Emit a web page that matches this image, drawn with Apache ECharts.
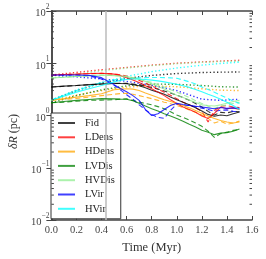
<!DOCTYPE html>
<html><head><meta charset="utf-8">
<script src="https://cdn.jsdelivr.net/npm/echarts@6/dist/echarts.min.js"></script>
<style>html,body{margin:0;padding:0;background:#fff}#c{width:266px;height:259px}</style>
</head><body><div id="c"></div>
<script>
var names = ['Fid','LDens','HDens','LVDis','HVDis','LVir','HVir'];
var colors = ['#000000','#ff0000','#ffa500','#008000','#90ee90','#0000ff','#00ffff'];
var markTime = 0.43;
var timeFine = [0,0.1,0.2,0.3,0.4,0.5,0.55,0.6,0.65,0.7,0.75,0.8,0.85,0.9,0.95,1.0,1.05,1.1,1.15,1.2,1.25,1.3,1.35,1.4,1.45,1.5];
var timeCoarse = [0,0.2,0.4,0.6,0.8,1.0,1.2,1.35,1.5];

var fidSolid   = [3.50,3.65,3.76,3.90,4.02,4.12,4.10,4.04,3.90,3.70,3.40,3.05,2.80,2.55,2.25,2.00,1.80,1.60,1.40,1.22,1.05,0.97,1.02,0.99,1.08,1.17];
var fidDashed  = [3.50,3.62,3.74,3.88,4.00,4.10,4.15,4.12,4.00,3.85,3.65,3.45,3.20,2.95,2.70,2.45,2.20,1.95,1.70,1.45,1.20,1.02,1.15,1.12,1.20,1.18];
var ldensSolid = [5.96,6.10,6.20,6.35,6.45,6.20,5.80,5.30,4.80,4.30,3.70,3.25,2.80,2.40,2.00,1.70,1.45,1.30,1.15,0.98,0.88,1.10,1.45,1.35,1.40,1.30];
var ldensDashed= [5.96,6.05,6.15,6.30,6.40,6.25,6.00,5.70,5.20,4.70,4.20,3.70,3.20,2.80,2.45,2.10,1.80,1.60,1.40,1.20,0.75,1.25,1.50,1.55,1.45,1.42];
var hdensSolid = [1.97,2.10,2.25,2.40,2.60,3.10,3.20,3.25,3.20,3.00,2.70,2.45,2.20,2.00,1.85,1.70,1.55,1.40,1.25,1.10,0.98,0.88,0.80,0.75,0.72,0.75];
var hdensDashed= [1.97,2.03,2.12,2.25,2.40,2.55,2.62,2.65,2.55,2.40,2.25,2.10,1.95,1.80,1.68,1.55,1.42,1.28,1.15,1.02,0.88,0.72,0.78,0.68,0.72,0.78];
var lvdisSolid = [1.75,1.85,1.95,2.03,2.10,2.08,2.06,2.05,1.92,1.72,1.52,1.35,1.22,1.08,0.98,0.88,0.78,0.68,0.60,0.52,0.48,0.43,0.46,0.47,0.50,0.55];
var lvdisDashed= [1.75,1.80,1.88,1.95,1.97,2.00,2.05,2.08,1.95,1.80,1.70,1.60,1.48,1.35,1.18,1.02,0.92,0.82,0.72,0.62,0.50,0.38,0.45,0.48,0.52,0.54];
var hvdisSolid = [5.23,5.40,5.60,5.80,5.95,5.80,5.70,5.55,5.25,4.95,4.50,4.05,3.60,3.20,2.80,2.45,2.20,1.97,1.78,1.60,1.55,1.52,1.60,1.72,1.85,1.95];
var hvdisDashed= [5.23,5.38,5.58,5.75,5.90,5.80,5.70,5.60,5.30,4.95,4.60,4.30,3.90,3.50,3.10,2.80,2.50,2.20,1.92,1.70,1.50,1.38,1.50,1.60,1.70,1.78];
var lvirSolid  = [5.96,5.96,5.96,5.85,5.30,3.90,3.30,2.85,2.40,1.95,1.30,1.00,1.08,1.30,1.55,1.72,1.62,1.55,1.50,1.45,1.40,1.35,1.42,1.37,1.40,1.37];
var lvirDashed = [5.96,5.96,5.96,5.75,5.00,3.80,3.10,2.50,2.05,1.60,1.28,1.05,0.92,0.88,1.25,1.65,1.60,1.55,1.48,1.38,1.30,1.20,1.26,1.28,1.20,1.18];
var hvirSolid  = [1.97,2.35,2.80,3.25,3.75,4.40,4.70,4.90,5.00,5.00,4.90,4.75,4.60,4.40,4.20,3.95,3.70,3.45,3.15,2.85,2.55,2.30,2.05,1.80,1.55,1.30];
var hvirDashed = [1.97,2.45,3.00,3.60,4.30,4.80,4.95,5.05,5.15,5.25,5.30,5.35,5.35,5.30,5.25,5.15,4.80,4.40,4.00,3.50,3.15,2.80,2.45,2.15,1.90,1.70];

var fidDotted   = [1.97,3.00,4.20,5.15,5.85,6.35,6.65,6.75,6.80];
var ldensDotted = [5.96,6.70,7.50,8.30,9.20,10.0,10.6,11.0,11.4];
var hdensDotted = [1.97,2.45,3.00,3.50,3.70,3.55,3.25,3.05,3.00];
var lvdisDotted = [1.75,2.40,3.10,3.70,4.00,3.95,3.75,3.55,3.50];
var hvdisDotted = [5.23,6.20,7.20,8.10,9.00,9.80,10.4,10.8,11.0];
var lvirDotted  = [5.96,5.50,5.00,4.50,3.80,3.00,2.05,1.95,2.05];
var hvirDotted  = [1.97,3.10,4.30,5.60,6.90,8.10,9.20,9.90,10.5];

var solids = [fidSolid,ldensSolid,hdensSolid,lvdisSolid,hvdisSolid,lvirSolid,hvirSolid];
var dashes = [fidDashed,ldensDashed,hdensDashed,lvdisDashed,hvdisDashed,lvirDashed,hvirDashed];
var dots = [fidDotted,ldensDotted,hdensDotted,lvdisDotted,hvdisDotted,lvirDotted,hvirDotted];

var minorVals = [];
[0.01,0.1,1,10].forEach(function(d){ for (var k=2;k<=9;k++) minorVals.push(+(d*k).toPrecision(3)); });

function pairs(t, v){ return t.map(function(x,i){ return [x, v[i]]; }); }

var FONT = 'Liberation Serif';
var AX = '#444';
var series = [];
series.push({
  type:'line', data:[], silent:true, z:1,
  markLine:{ silent:true, symbol:'none', label:{show:false},
    lineStyle:{color:'#bbbbbb', width:1.5, type:'solid'},
    data:[{xAxis: markTime}] }
});
for (var i=0;i<names.length;i++){
  var base = {type:'line', showSymbol:false, symbol:'none', silent:true, animation:false,
    color: colors[i], itemStyle:{color:colors[i], opacity:0.75}};
  series.push(Object.assign({}, base, {name:names[i], data:pairs(timeFine, solids[i]), z:5,
    lineStyle:{color:colors[i], width:1.1, opacity:0.8}}));
  series.push(Object.assign({}, base, {name:names[i]+'_d', data:pairs(timeFine, dashes[i]), z:4,
    lineStyle:{color:colors[i], width:1.1, opacity:0.8, type:[5,3]}}));
  series.push(Object.assign({}, base, {name:names[i]+'_o', data:pairs(timeCoarse, dots[i]), z:3,
    lineStyle:{color:colors[i], width:1.4, opacity:0.8, type:[1.3,2.3]}}));
}
series.push({
  type:'custom', silent:true, clip:false, z:10, animation:false,
  data: minorVals.map(function(v){ return [0, v]; }),
  encode:{x:0, y:1},
  renderItem:function(params, api){
    var v = api.value(1);
    var a = api.coord([0, v]);
    var b = api.coord([1.6, v]);
    return {type:'group', children:[
      {type:'line', shape:{x1:a[0], y1:a[1], x2:a[0]+2.5, y2:a[1]}, style:{stroke:AX, lineWidth:1}},
      {type:'line', shape:{x1:b[0], y1:b[1], x2:b[0]-2.5, y2:b[1]}, style:{stroke:AX, lineWidth:1}}
    ]};
  }
});

function yLab(v){
  var e = Math.round(Math.log10(v));
  return '{b|10}{s|' + (e<0 ? '\u2212'+(-e) : e) + '}';
}

var chart = echarts.init(document.getElementById('c'), null, {renderer:'canvas'});
chart.setOption({
  animation:false,
  backgroundColor:'#ffffff',
  grid:{left:45, right:14, top:11, bottom:35, containLabel:false},
  legend:{
    data:names, orient:'vertical', left:51, top:113,
    padding:[4,6,4,7], itemGap:2.3, itemWidth:17, itemHeight:2, icon:'rect',
    backgroundColor:'#ffffff', borderColor:'#333', borderWidth:1, borderRadius:0,
    textStyle:{fontFamily:FONT, fontSize:10.5, color:'#222', lineHeight:12, padding:[0,0,0,5]},
    selectedMode:false
  },
  xAxis:[{
    type:'value', min:0, max:1.6, interval:0.2,
    name:'Time (Myr)', nameLocation:'middle', nameGap:21,
    nameTextStyle:{fontFamily:FONT, fontSize:12.5, color:'#333'},
    axisLine:{show:true, lineStyle:{color:AX, width:1.5}},
    axisTick:{show:true, inside:true, length:4, lineStyle:{color:AX}},
    axisLabel:{fontFamily:FONT, fontSize:10.5, color:'#444', margin:5,
      formatter:function(v){ return v.toFixed(1); }},
    splitLine:{show:false}
  },{
    type:'value', min:0, max:1.6, interval:0.2, position:'top',
    axisLine:{show:true, lineStyle:{color:AX, width:1.5}},
    axisTick:{show:true, inside:true, length:4, lineStyle:{color:AX}},
    axisLabel:{show:false}, splitLine:{show:false}
  }],
  yAxis:[{
    type:'log', logBase:10, min:0.01, max:100,
    name:'{i|\u03B4R} (pc)', nameLocation:'middle', nameGap:26,
    nameTextStyle:{fontFamily:FONT, fontSize:12, color:'#333', padding:[0,32,0,0],
      rich:{i:{fontFamily:FONT, fontSize:12, fontStyle:'italic', color:'#333'}}},
    axisLine:{show:true, lineStyle:{color:AX, width:1.5}},
    axisTick:{show:true, inside:true, length:5, lineStyle:{color:AX}},
    axisLabel:{margin:2, formatter:yLab,
      rich:{b:{fontFamily:FONT, fontSize:10.5, color:'#444', lineHeight:16, verticalAlign:'bottom'},
            s:{fontFamily:FONT, fontSize:7.5, color:'#444', lineHeight:8, verticalAlign:'top'}}},
    splitLine:{show:false}
  },{
    type:'log', logBase:10, min:0.01, max:100, position:'right',
    axisLine:{show:true, lineStyle:{color:AX, width:1.5}},
    axisTick:{show:true, inside:true, length:5, lineStyle:{color:AX}},
    axisLabel:{show:false}, splitLine:{show:false}
  }],
  series:series
});
</script></body></html>
